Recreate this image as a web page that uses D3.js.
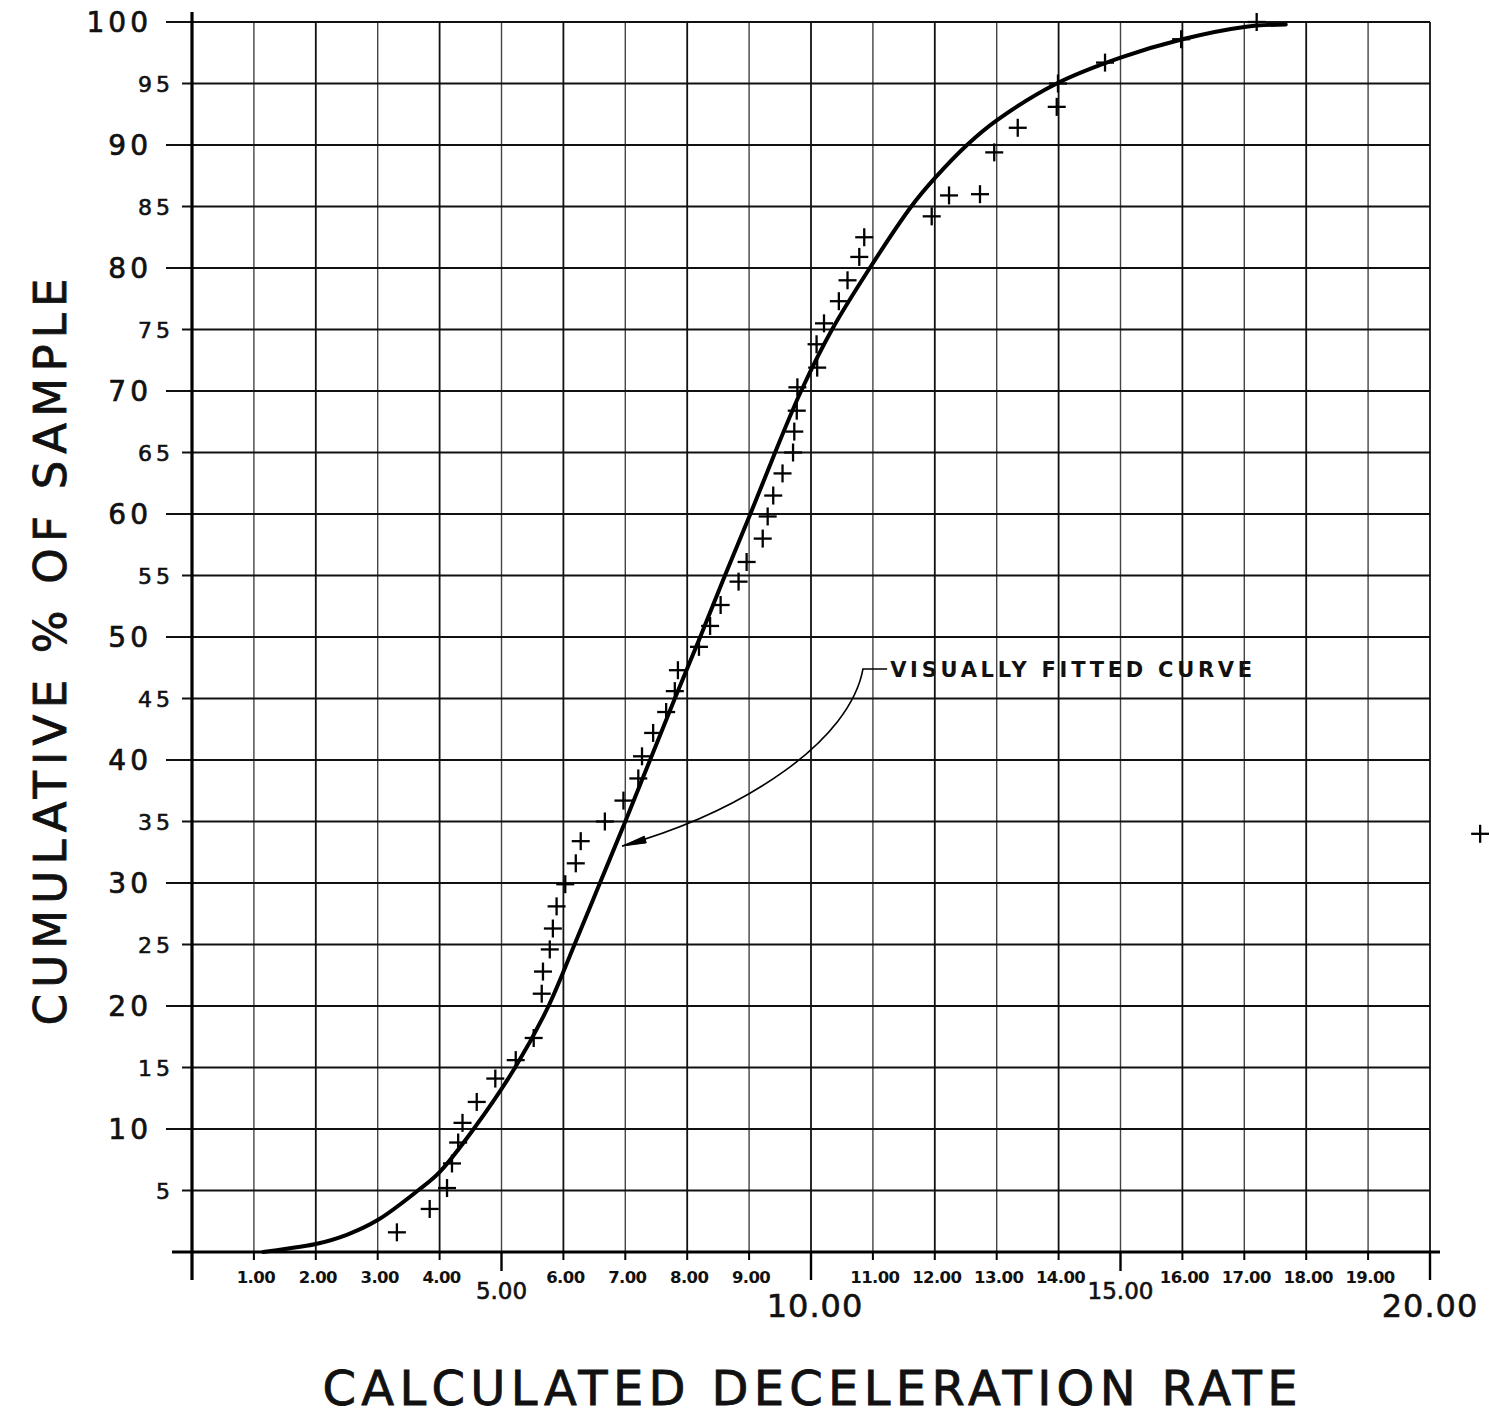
<!DOCTYPE html>
<html>
<head>
<meta charset="utf-8">
<script src="https://cdn.jsdelivr.net/npm/d3@7"></script>
<style>
  html, body { margin: 0; padding: 0; background: #fff; }
  svg { display: block; }
  text { font-family: "DejaVu Sans", sans-serif; fill: #111; }
</style>
</head>
<body>
<svg id="chart" width="1489" height="1421"></svg>
<script>
// Observed sample: deceleration rate vs cumulative percent
const decelRate = [3.31, 3.84, 4.12, 4.20, 4.30, 4.37, 4.60, 4.90, 5.23, 5.52,
  5.65, 5.67, 5.78, 5.83, 5.89, 6.03, 6.20, 6.28, 6.67, 6.97,
  7.21, 7.27, 7.45, 7.66, 7.80, 7.85, 8.19, 8.37, 8.54, 8.83,
  8.96, 9.22, 9.30, 9.39, 9.54, 9.71, 9.73, 9.77, 9.78, 10.10,
  10.09, 10.21, 10.45, 10.59, 10.78, 10.86, 11.95, 12.23, 12.73, 12.96,
  13.34, 13.97, 13.99, 14.75, 15.98, 17.20];
const cumPercent = [1.6, 3.5, 5.2, 7.2, 8.9, 10.5, 12.2, 14.1, 15.6, 17.4,
  21.0, 22.8, 24.6, 26.3, 28.1, 29.9, 31.6, 33.4, 35.0, 36.7,
  38.5, 40.3, 42.2, 43.9, 45.6, 47.3, 49.2, 50.9, 52.6, 54.5,
  56.1, 58.0, 59.8, 61.5, 63.3, 65.0, 66.7, 68.4, 70.3, 71.9,
  73.8, 75.5, 77.3, 79.0, 80.9, 82.5, 84.2, 85.9, 86.0, 89.4,
  91.4, 93.1, 95.0, 96.7, 98.6, 100.0];

// Stray mark plotted past the right edge of the grid
const strayRate = [20.81];
const strayPercent = [34.0];

// Visually fitted curve
const curveRate = [1.15, 1.5, 2.0, 2.5, 3.0, 3.65, 4.0, 4.55, 5.22, 5.76,
  6.18, 6.59, 7.0, 7.40, 7.80, 8.21, 8.61, 9.02, 9.42, 9.84,
  10.34, 10.95, 11.62, 12.0, 12.52, 13.0, 13.97, 15.0, 16.0, 17.0, 17.67];
const curvePercent = [0, 0.25, 0.65, 1.4, 2.6, 5, 6.5, 10, 15, 20,
  25, 30, 35, 40, 45, 50, 55, 60, 65, 70,
  75, 80, 85, 87.3, 90, 92.0, 95, 97.1, 98.6, 99.6, 99.8];

// Leader from the annotation to the curve (data units):
// text end, bend start, two control points, arrow tip
const leaderRate = [11.23, 10.84, 10.63, 8.97, 6.95];
const leaderPercent = [47.4, 47.4, 41.6, 35.9, 33.0];

// Axis ticks and labels
const xSmallTicks = [1, 2, 3, 4, 6, 7, 8, 9, 11, 12, 13, 14, 16, 17, 18, 19];
const xSmallLabels = ["1.00", "2.00", "3.00", "4.00", "6.00", "7.00", "8.00", "9.00",
  "11.00", "12.00", "13.00", "14.00", "16.00", "17.00", "18.00", "19.00"];
const xLargeTicks = [5, 10, 15, 20];
const xLargeLabels = ["5.00", "10.00", "15.00", "20.00"];
const yTenTicks = [10, 20, 30, 40, 50, 60, 70, 80, 90, 100];
const yFiveTicks = [5, 15, 25, 35, 45, 55, 65, 75, 85, 95];
const xGridValues = [1, 2, 3, 4, 5, 6, 7, 8, 9, 10, 11, 12, 13, 14, 15, 16, 17, 18, 19, 20];
const yGridValues = [5, 10, 15, 20, 25, 30, 35, 40, 45, 50, 55, 60, 65, 70, 75, 80, 85, 90, 95, 100];

const svg = d3.select("#chart");
svg.append("rect").attr("width", 1489).attr("height", 1421).attr("fill", "#fff");

const x = d3.scaleLinear().domain([0, 20]).range([192, 1430]);
const y = d3.scaleLinear().domain([0, 100]).range([1252, 22]);

// Vertical grid lines
svg.append("g").selectAll("line").data(xGridValues).join("line")
  .attr("x1", d => x(d)).attr("x2", d => x(d))
  .attr("y1", y(100)).attr("y2", y(0))
  .attr("stroke", (d, i) => i % 2 ? "#111" : "#444")
  .attr("stroke-width", (d, i) => i % 2 ? 1.8 : 1.4);

// Horizontal grid lines, with stubs reaching out to the labels
svg.append("g").selectAll("line").data(yGridValues).join("line")
  .attr("x1", d => d % 10 === 0 ? 166 : 182).attr("x2", x(20))
  .attr("y1", d => y(d)).attr("y2", d => y(d))
  .attr("stroke", "#111").attr("stroke-width", 2);

// Main axes
svg.append("line").attr("x1", 172).attr("x2", 1440)
  .attr("y1", y(0)).attr("y2", y(0))
  .attr("stroke", "#000").attr("stroke-width", 3.2);
svg.append("line").attr("x1", x(0)).attr("x2", x(0))
  .attr("y1", 12).attr("y2", 1280)
  .attr("stroke", "#000").attr("stroke-width", 3.2);

// Tick marks under the baseline
svg.append("g").selectAll("line").data(xSmallTicks).join("line")
  .attr("x1", d => x(d)).attr("x2", d => x(d))
  .attr("y1", y(0)).attr("y2", y(0) + 8)
  .attr("stroke", "#000").attr("stroke-width", 2);
svg.append("g").selectAll("line").data(xLargeTicks).join("line")
  .attr("x1", d => x(d)).attr("x2", d => x(d))
  .attr("y1", y(0)).attr("y2", d => d % 10 === 0 ? y(0) + 28 : y(0) + 19)
  .attr("stroke", "#000").attr("stroke-width", 2.4);

// X tick labels
svg.append("g").selectAll("text").data(xSmallTicks).join("text")
  .attr("x", d => x(d) + 2).attr("y", 1283)
  .attr("text-anchor", "middle")
  .attr("font-size", 16.5)
  .attr("font-weight", "bold")
  .attr("letter-spacing", -0.6)
  .text((d, i) => xSmallLabels[i]);
svg.append("g").selectAll("text").data(xLargeTicks).join("text")
  .attr("x", d => x(d) + (d === 10 ? 4 : 0)).attr("y", d => d % 10 === 0 ? 1317 : 1299)
  .attr("text-anchor", "middle")
  .attr("font-size", d => d % 10 === 0 ? 32 : 23)
  .attr("letter-spacing", d => d % 10 === 0 ? 1 : 0)
  .attr("stroke", "#111").attr("stroke-width", 0.6)
  .text((d, i) => xLargeLabels[i]);

// Y tick labels
svg.append("g").selectAll("text").data(yTenTicks).join("text")
  .attr("x", 152).attr("y", d => y(d) + 10)
  .attr("text-anchor", "end")
  .attr("font-size", 28)
  .attr("letter-spacing", 4)
  .attr("stroke", "#111").attr("stroke-width", 0.7)
  .text(d => d);
svg.append("g").selectAll("text").data(yFiveTicks).join("text")
  .attr("x", 174).attr("y", d => y(d) + 8)
  .attr("text-anchor", "end")
  .attr("font-size", 22)
  .attr("letter-spacing", 4)
  .attr("stroke", "#111").attr("stroke-width", 0.6)
  .text(d => d);

// Axis titles
svg.append("text")
  .attr("transform", `translate(${66},${652}) rotate(-90)`)
  .attr("text-anchor", "middle")
  .attr("font-size", 45)
  .attr("stroke", "#111").attr("stroke-width", 0.8)
  .attr("textLength", 747).attr("lengthAdjust", "spacing")
  .text("CUMULATIVE % OF SAMPLE");
svg.append("text")
  .attr("x", 810).attr("y", 1405)
  .attr("text-anchor", "middle")
  .attr("font-size", 48)
  .attr("stroke", "#111").attr("stroke-width", 0.8)
  .attr("textLength", 975).attr("lengthAdjust", "spacing")
  .text("CALCULATED DECELERATION RATE");

// Fitted curve
const curvePts = curveRate.map((d, i) => [d, curvePercent[i]]);
svg.append("path")
  .attr("d", d3.line().x(d => x(d[0])).y(d => y(d[1])).curve(d3.curveCatmullRom.alpha(0.5))(curvePts))
  .attr("fill", "none").attr("stroke", "#000").attr("stroke-width", 4)
  .attr("stroke-linecap", "round");

// Observed points as crosses
const half = 9;
const drawCross = (g, rates, pcts) => {
  const pts = rates.map((d, i) => [d, pcts[i]]);
  const c = g.selectAll("g").data(pts).join("g")
    .attr("transform", d => `translate(${x(d[0])},${y(d[1])})`);
  c.append("line").attr("x1", -half).attr("x2", half).attr("y1", 0).attr("y2", 0)
    .attr("stroke", "#000").attr("stroke-width", 2.3);
  c.append("line").attr("x1", 0).attr("x2", 0).attr("y1", -half).attr("y2", half)
    .attr("stroke", "#000").attr("stroke-width", 2.3);
};
drawCross(svg.append("g"), decelRate, cumPercent);
drawCross(svg.append("g"), strayRate, strayPercent);

// Annotation leader: short horizontal run, then a sweeping bend to the arrow tip
const lp = leaderRate.map((d, i) => [x(d), y(leaderPercent[i])]);
const leader = d3.path();
leader.moveTo(lp[0][0], lp[0][1]);
leader.lineTo(lp[1][0], lp[1][1]);
leader.bezierCurveTo(lp[2][0], lp[2][1], lp[3][0], lp[3][1], lp[4][0], lp[4][1]);
svg.append("path").attr("d", leader.toString())
  .attr("fill", "none").attr("stroke", "#000").attr("stroke-width", 1.6);
const tx = lp[4][0], ty = lp[4][1];
const ang = Math.atan2(lp[3][1] - ty, lp[3][0] - tx);
const len = 24, wid = 3.5;
svg.append("path")
  .attr("d", `M${tx},${ty} L${tx + len * Math.cos(ang) - wid * Math.sin(ang)},${ty + len * Math.sin(ang) + wid * Math.cos(ang)} L${tx + len * Math.cos(ang) + wid * Math.sin(ang)},${ty + len * Math.sin(ang) - wid * Math.cos(ang)} Z`)
  .attr("fill", "#000").attr("stroke", "#000").attr("stroke-width", 1);
svg.append("text")
  .attr("x", lp[0][0] + 3).attr("y", lp[0][1] + 8)
  .attr("font-size", 21)
  .attr("font-weight", "bold")
  .attr("textLength", 362).attr("lengthAdjust", "spacing")
  .text("VISUALLY FITTED CURVE");
</script>
</body>
</html>
